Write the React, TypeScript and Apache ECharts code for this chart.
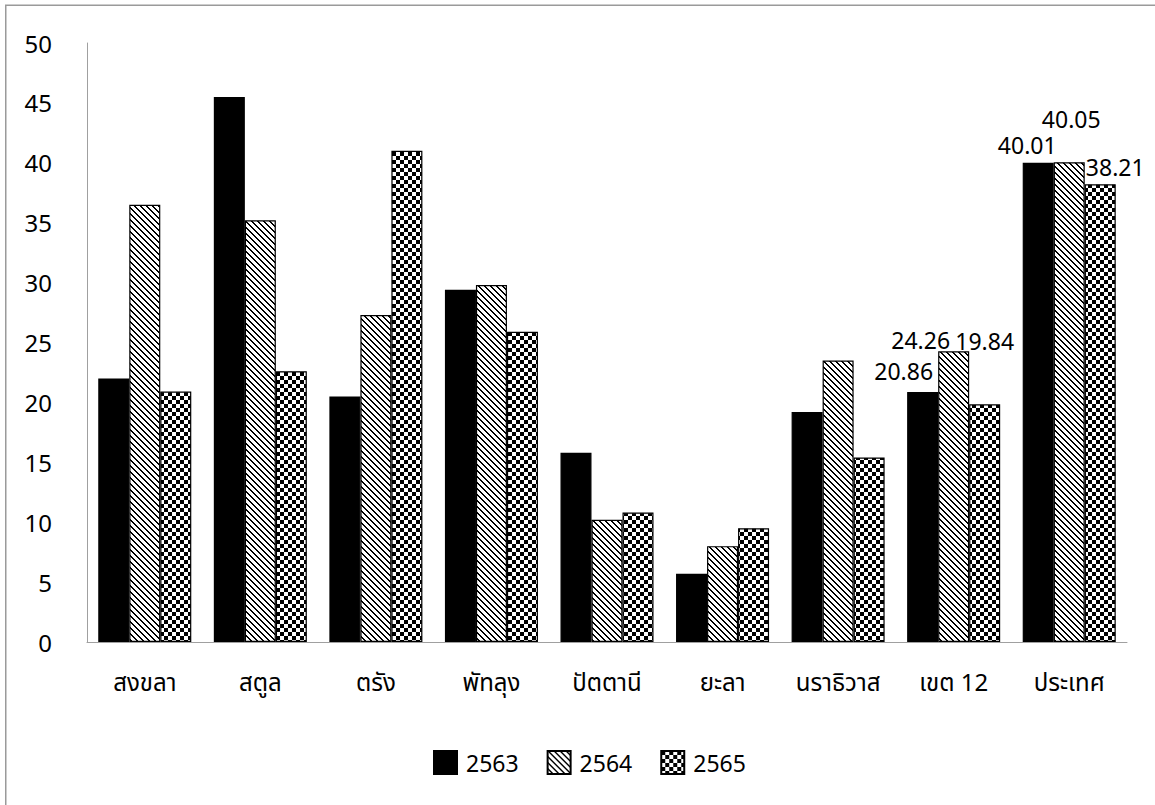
import React, { useEffect, useRef } from "react";
import * as echarts from "echarts";

// Provinces of health region 12 plus the region and national totals
const categories = [
  "สงขลา",
  "สตูล",
  "ตรัง",
  "พัทลุง",
  "ปัตตานี",
  "ยะลา",
  "นราธิวาส",
  "เขต 12",
  "ประเทศ",
];

const years = ["2563", "2564", "2565"];

const values2563 = [22.0, 45.5, 20.5, 29.4, 15.8, 5.7, 19.2, 20.86, 40.01];
const values2564 = [36.5, 35.2, 27.3, 29.8, 10.2, 8.0, 23.5, 24.26, 40.05];
const values2565 = [20.9, 22.6, 41.0, 25.9, 10.8, 9.5, 15.4, 19.84, 38.21];

const yTicks = { min: 0, max: 50, interval: 5 };

// Categories whose bars carry a value label
const labelledCategories = ["เขต 12", "ประเทศ"];

// Label nudges [dx, dy] per series, keyed by category
const labelNudges: Record<string, Record<string, [number, number]>> = {
  "2563": { "เขต 12": [-19, -10], "ประเทศ": [-11, -6] },
  "2564": { "เขต 12": [-33, 0], "ประเทศ": [2, -32] },
  "2565": { "เขต 12": [0, -52], "ประเทศ": [15, -6] },
};

const FONT = "'Noto Sans', 'Noto Sans Thai', Tahoma, sans-serif";

function makeTile(w: number, h: number, ink: (x: number, y: number) => boolean) {
  const c = document.createElement("canvas");
  c.width = w;
  c.height = h;
  const ctx = c.getContext("2d")!;
  const img = ctx.createImageData(w, h);
  for (let y = 0; y < h; y++) {
    for (let x = 0; x < w; x++) {
      const i = (y * w + x) * 4;
      const v = ink(x, y) ? 0 : 255;
      img.data[i] = v;
      img.data[i + 1] = v;
      img.data[i + 2] = v;
      img.data[i + 3] = 255;
    }
  }
  ctx.putImageData(img, 0, 0);
  return c;
}

function buildData(name: string, vals: number[]) {
  return vals.map((v, i) => {
    const cat = categories[i];
    if (!labelledCategories.includes(cat)) return v;
    return {
      value: v,
      label: {
        show: true,
        position: "top",
        distance: 0,
        offset: labelNudges[name][cat],
        fontFamily: FONT,
        fontSize: 23,
        color: "#000",
        formatter: (p: any) => Number(p.value).toFixed(2),
      },
    };
  });
}

export default function App() {
  const ref = useRef<HTMLDivElement>(null);

  useEffect(() => {
    document.body.style.margin = "0";
    if (!ref.current) return;
    const chart = echarts.init(ref.current, null, { renderer: "svg" });

    const diag = makeTile(6, 6, (x, y) => {
      const d = (((x - y) % 6) + 6) % 6;
      return d === 0 || d === 1;
    });
    const checker = makeTile(8, 8, (x, y) => (Math.floor(x / 4) + Math.floor(y / 4)) % 2 === 0);

    const fills: any[] = [
      "#000000",
      { image: diag, repeat: "repeat", imageWidth: 6, imageHeight: 6 },
      { image: checker, repeat: "repeat", imageWidth: 8, imageHeight: 8 },
    ];
    const seriesValues = [values2563, values2564, values2565];

    chart.setOption({
      animation: false,
      backgroundColor: "#ffffff",
      textStyle: { fontFamily: FONT },
      graphic: [
        {
          type: "rect",
          shape: { x: 5.75, y: 5.25, width: 1200, height: 900 },
          style: { fill: "none", stroke: "#9a9a9a", lineWidth: 1.5 },
          silent: true,
        },
      ],
      grid: { left: 87, right: 28, top: 43, bottom: 163, containLabel: false },
      legend: {
        left: 428,
        top: 745,
        itemWidth: 23,
        itemHeight: 23,
        itemGap: 28,
        icon: "rect",
        textStyle: {
          fontFamily: FONT,
          fontSize: 23,
          color: "#000",
          padding: [0, 0, 0, 4],
        },
        data: years,
      },
      xAxis: {
        type: "category",
        data: categories,
        axisLine: { show: true, lineStyle: { color: "#a0a0a0", width: 1 } },
        axisTick: { show: false },
        axisLabel: { fontFamily: FONT, fontSize: 24, color: "#000", margin: 27, interval: 0 },
      },
      yAxis: {
        type: "value",
        min: yTicks.min,
        max: yTicks.max,
        interval: yTicks.interval,
        axisLine: { show: true, lineStyle: { color: "#a0a0a0", width: 1 } },
        axisTick: { show: false },
        splitLine: { show: false },
        axisLabel: { fontFamily: FONT, fontSize: 24, color: "#000", margin: 35 },
      },
      series: years.map((name, k) => ({
        name,
        type: "bar",
        barGap: "0%",
        barCategoryGap: "19.5%",
        itemStyle: { color: fills[k], borderColor: "#000", borderWidth: 1.2 },
        data: buildData(name, seriesValues[k]),
      })),
    });

    return () => chart.dispose();
  }, []);

  return <div ref={ref} style={{ width: 1155, height: 805 }} />;
}
